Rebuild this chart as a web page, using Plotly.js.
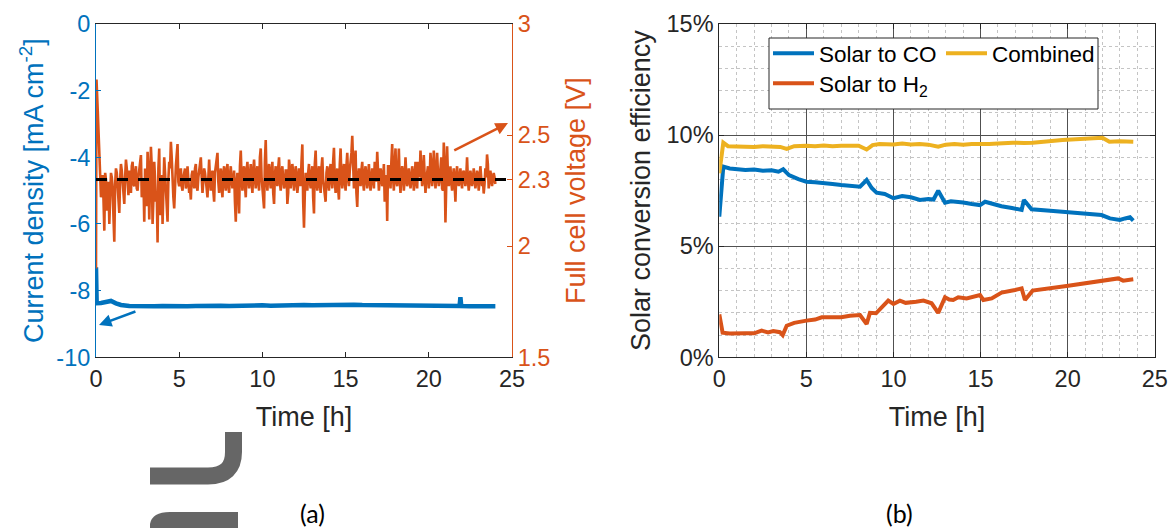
<!DOCTYPE html>
<html>
<head>
<meta charset="utf-8">
<script src="https://cdn.plot.ly/plotly-3.0.1.min.js"></script>
<style>html,body{margin:0;padding:0;background:#fff;}#chart{width:1169px;height:528px;}</style>
</head>
<body>
<div id="chart"></div>
<script>
// ---------- Panel (a): current density ----------
const curT = [0, 0.04, 0.3, 0.6, 0.9, 1.2, 1.5, 2, 2.5, 3, 3.5, 4, 4.5, 5, 5.5, 6, 6.5, 7, 7.5, 8, 8.5, 9, 9.5, 10, 10.5, 11, 11.5, 12, 12.5, 13, 13.5, 14, 14.5, 15, 15.5, 16, 16.5, 17, 17.5, 18, 18.5, 19, 19.5, 20, 20.5, 21, 21.5, 21.85, 21.9, 21.95, 22.5, 23, 23.5, 24.0];
const curV = [-7.3, -8.38, -8.37, -8.34, -8.31, -8.38, -8.43, -8.46, -8.47, -8.46, -8.47, -8.46, -8.47, -8.46, -8.47, -8.46, -8.45, -8.46, -8.45, -8.46, -8.45, -8.45, -8.44, -8.44, -8.45, -8.44, -8.43, -8.44, -8.43, -8.44, -8.43, -8.43, -8.44, -8.43, -8.42, -8.43, -8.43, -8.44, -8.43, -8.44, -8.44, -8.45, -8.44, -8.45, -8.45, -8.46, -8.45, -8.46, -8.2, -8.46, -8.47, -8.47, -8.48, -8.47];

// ---------- Panel (a): full cell voltage (readings on the 0.1 h grid) ----------
const volT = [0, 0.03, 0.1, 0.2, 0.3, 0.4, 0.5, 0.6, 0.7, 0.8, 0.9, 1.0, 1.1, 1.2, 1.3, 1.4, 1.5, 1.6, 1.7, 1.8, 1.9,
  2.0, 2.1, 2.2, 2.3, 2.4, 2.5, 2.6, 2.7, 2.8, 2.9, 3.0, 3.1, 3.2, 3.3, 3.4, 3.5, 3.6, 3.7, 3.8, 3.9,
  4.0, 4.1, 4.2, 4.3, 4.4, 4.5, 4.6, 4.7, 4.8, 4.9, 5.0, 5.1, 5.2, 5.3, 5.4, 5.5, 5.6, 5.7, 5.8, 5.9,
  6.0, 6.1, 6.2, 6.3, 6.4, 6.5, 6.6, 6.7, 6.8, 6.9, 7.0, 7.1, 7.2, 7.3, 7.4, 7.5, 7.6, 7.7, 7.8, 7.9,
  8.0, 8.1, 8.2, 8.3, 8.4, 8.5, 8.6, 8.7, 8.8, 8.9, 9.0, 9.1, 9.2, 9.3, 9.4, 9.5, 9.6, 9.7, 9.8, 9.9,
  10.0, 10.1, 10.2, 10.3, 10.4, 10.5, 10.6, 10.7, 10.8, 10.9, 11.0, 11.1, 11.2, 11.3, 11.4, 11.5, 11.6, 11.7, 11.8, 11.9,
  12.0, 12.1, 12.2, 12.3, 12.4, 12.5, 12.6, 12.7, 12.8, 12.9, 13.0, 13.1, 13.2, 13.3, 13.4, 13.5, 13.6, 13.7, 13.8, 13.9,
  14.0, 14.1, 14.2, 14.3, 14.4, 14.5, 14.6, 14.7, 14.8, 14.9, 15.0, 15.1, 15.2, 15.3, 15.4, 15.5, 15.6, 15.7, 15.8, 15.9,
  16.0, 16.1, 16.2, 16.3, 16.4, 16.5, 16.6, 16.7, 16.8, 16.9, 17.0, 17.1, 17.2, 17.3, 17.4, 17.5, 17.6, 17.7, 17.8, 17.9,
  18.0, 18.1, 18.2, 18.3, 18.4, 18.5, 18.6, 18.7, 18.8, 18.9, 19.0, 19.1, 19.2, 19.3, 19.4, 19.5, 19.6, 19.7, 19.8, 19.9,
  20.0, 20.1, 20.2, 20.3, 20.4, 20.5, 20.6, 20.7, 20.8, 20.9, 21.0, 21.1, 21.2, 21.3, 21.4, 21.5, 21.6, 21.7, 21.8, 21.9,
  22.0, 22.1, 22.2, 22.3, 22.4, 22.5, 22.6, 22.7, 22.8, 22.9, 23.0, 23.1, 23.2, 23.3, 23.4, 23.5, 23.6, 23.7, 23.8, 23.9, 24.0];
const volV = [1.90, 2.75, 2.62, 2.40, 2.22, 2.32, 2.07, 2.30, 2.24, 2.10, 2.33, 2.26, 2.02, 2.35, 2.25, 2.15, 2.37, 2.27, 2.19, 2.39, 2.26,
  2.34, 2.24, 2.38, 2.27, 2.36, 2.25, 2.35, 2.41, 2.27, 2.11, 2.30, 2.425, 2.12, 2.447, 2.10, 2.38, 2.20, 2.017, 2.44, 2.25,
  2.10, 2.40, 2.26, 2.11, 2.38, 2.47, 2.26, 2.17, 2.36, 2.46, 2.27, 2.35, 2.25, 2.33, 2.26, 2.36, 2.24, 2.21, 2.34, 2.26,
  2.37, 2.25, 2.34, 2.40, 2.24, 2.35, 2.27, 2.22, 2.39, 2.25, 2.34, 2.20, 2.36, 2.42, 2.24, 2.35, 2.22, 2.36, 2.25, 2.37,
  2.24, 2.36, 2.26, 2.34, 2.11, 2.33, 2.147, 2.43, 2.25, 2.36, 2.22, 2.38, 2.26, 2.37, 2.24, 2.39, 2.26, 2.36, 2.25, 2.44,
  2.26, 2.17, 2.478, 2.25, 2.37, 2.26, 2.38, 2.19, 2.36, 2.27, 2.40, 2.25, 2.36, 2.26, 2.34, 2.19, 2.39, 2.26, 2.37, 2.25,
  2.36, 2.24, 2.35, 2.27, 2.458, 2.083, 2.33, 2.25, 2.37, 2.26, 2.36, 2.147, 2.43, 2.25, 2.36, 2.24, 2.40, 2.26, 2.20, 2.36,
  2.25, 2.37, 2.26, 2.443, 2.24, 2.35, 2.21, 2.44, 2.26, 2.37, 2.25, 2.42, 2.27, 2.38, 2.497, 2.26, 2.43, 2.177, 2.35, 2.27,
  2.38, 2.25, 2.36, 2.26, 2.37, 2.25, 2.35, 2.26, 2.34, 2.425, 2.25, 2.35, 2.27, 2.37, 2.25, 2.113, 2.36, 2.26, 2.46, 2.25,
  2.44, 2.27, 2.44, 2.24, 2.36, 2.25, 2.40, 2.27, 2.35, 2.26, 2.36, 2.25, 2.38, 2.26, 2.34, 2.43, 2.27, 2.41, 2.24, 2.35,
  2.26, 2.42, 2.27, 2.43, 2.26, 2.42, 2.27, 2.36, 2.26, 2.467, 2.107, 2.45, 2.27, 2.36, 2.25, 2.35, 2.20, 2.36, 2.27, 2.35,
  2.26, 2.34, 2.27, 2.40, 2.25, 2.34, 2.27, 2.35, 2.26, 2.34, 2.25, 2.36, 2.27, 2.237, 2.35, 2.413, 2.26, 2.34, 2.27, 2.33, 2.28];

// ---------- Panel (a): full cell voltage (readings between the grid points) ----------
const volMidT = [0.35, 0.45, 0.55, 0.65, 0.75, 0.85, 0.95, 1.05, 1.15, 1.25, 1.35, 1.45, 1.55, 1.65, 1.75, 1.85, 1.95, 2.05, 2.15, 2.25,
  2.35, 2.45, 2.55, 2.65, 2.75, 2.85, 2.95, 3.05, 3.15, 3.25, 3.35, 3.45, 3.55, 3.65, 3.75, 3.85, 3.95, 4.05, 4.15, 4.25,
  4.35, 4.45, 4.55, 4.65, 4.75, 4.85, 4.95, 5.05, 5.15, 5.25, 5.35, 5.45, 5.55, 5.65, 5.75, 5.85, 5.95, 6.05, 6.15, 6.25,
  6.35, 6.45, 6.55, 6.65, 6.75, 6.85, 6.95, 7.05, 7.15, 7.25, 7.35, 7.45, 7.55, 7.65, 7.75, 7.85, 7.95, 8.05, 8.15, 8.25,
  8.35, 8.45, 8.55, 8.65, 8.75, 8.85, 8.95, 9.05, 9.15, 9.25, 9.35, 9.45, 9.55, 9.65, 9.75, 9.85, 9.95, 10.05, 10.15, 10.25,
  10.35, 10.45, 10.55, 10.65, 10.75, 10.85, 10.95, 11.05, 11.15, 11.25, 11.35, 11.45, 11.55, 11.65, 11.75, 11.85, 11.95, 12.05, 12.15, 12.25,
  12.35, 12.45, 12.55, 12.65, 12.75, 12.85, 12.95, 13.05, 13.15, 13.25, 13.35, 13.45, 13.55, 13.65, 13.75, 13.85, 13.95, 14.05, 14.15, 14.25,
  14.35, 14.45, 14.55, 14.65, 14.75, 14.85, 14.95, 15.05, 15.15, 15.25, 15.35, 15.45, 15.55, 15.65, 15.75, 15.85, 15.95, 16.05, 16.15, 16.25,
  16.35, 16.45, 16.55, 16.65, 16.75, 16.85, 16.95, 17.05, 17.15, 17.25, 17.35, 17.45, 17.55, 17.65, 17.75, 17.85, 17.95, 18.05, 18.15, 18.25,
  18.35, 18.45, 18.55, 18.65, 18.75, 18.85, 18.95, 19.05, 19.15, 19.25, 19.35, 19.45, 19.55, 19.65, 19.75, 19.85, 19.95, 20.05, 20.15, 20.25,
  20.35, 20.45, 20.55, 20.65, 20.75, 20.85, 20.95, 21.05, 21.15, 21.25, 21.35, 21.45, 21.55, 21.65, 21.75, 21.85, 21.95, 22.05, 22.15, 22.25,
  22.35, 22.45, 22.55, 22.65, 22.75, 22.85, 22.95, 23.05, 23.15, 23.25, 23.35, 23.45, 23.55, 23.65, 23.75, 23.85, 23.95];
const volMidV = [2.27, 2.21, 2.33, 2.16, 2.29, 2.23, 2.31, 2.13, 2.28, 2.33, 2.22, 2.30, 2.34, 2.24, 2.31, 2.35, 2.23, 2.30, 2.36, 2.28,
  2.33, 2.26, 2.31, 2.37, 2.22, 2.30, 2.35, 2.18, 2.33, 2.27, 2.36, 2.21, 2.30, 2.25, 2.35, 2.14, 2.32, 2.28, 2.33, 2.20,
  2.30, 2.35, 2.40, 2.22, 2.31, 2.41, 2.29, 2.33, 2.27, 2.31, 2.35, 2.28, 2.30, 2.26, 2.32, 2.29, 2.35, 2.27, 2.31, 2.37,
  2.31, 2.29, 2.33, 2.26, 2.35, 2.30, 2.32, 2.25, 2.33, 2.37, 2.29, 2.31, 2.26, 2.33, 2.28, 2.34, 2.27, 2.32, 2.30, 2.29,
  2.20, 2.29, 2.25, 2.36, 2.31, 2.33, 2.28, 2.34, 2.30, 2.32, 2.29, 2.34, 2.31, 2.33, 2.29, 2.40, 2.31, 2.22, 2.38, 2.30,
  2.33, 2.30, 2.34, 2.24, 2.32, 2.30, 2.35, 2.29, 2.33, 2.30, 2.28, 2.34, 2.24, 2.35, 2.30, 2.33, 2.29, 2.32, 2.28, 2.31,
  2.38, 2.20, 2.24, 2.30, 2.33, 2.29, 2.32, 2.22, 2.37, 2.29, 2.32, 2.28, 2.35, 2.30, 2.25, 2.33, 2.29, 2.34, 2.30, 2.38,
  2.30, 2.31, 2.26, 2.37, 2.30, 2.33, 2.29, 2.36, 2.31, 2.34, 2.42, 2.31, 2.35, 2.24, 2.31, 2.30, 2.34, 2.29, 2.33, 2.30,
  2.32, 2.29, 2.31, 2.30, 2.38, 2.29, 2.31, 2.30, 2.33, 2.29, 2.20, 2.32, 2.36, 2.31, 2.38, 2.31, 2.37, 2.29, 2.33, 2.30,
  2.31, 2.33, 2.30, 2.32, 2.29, 2.31, 2.30, 2.33, 2.29, 2.31, 2.38, 2.31, 2.34, 2.30, 2.32, 2.30, 2.36, 2.30, 2.37, 2.31,
  2.35, 2.31, 2.33, 2.30, 2.40, 2.25, 2.36, 2.31, 2.32, 2.30, 2.29, 2.31, 2.28, 2.32, 2.30, 2.31, 2.29, 2.33, 2.30, 2.31,
  2.30, 2.29, 2.31, 2.30, 2.31, 2.29, 2.32, 2.30, 2.31, 2.30, 2.28, 2.31, 2.37, 2.30, 2.31, 2.30, 2.31];

const refT = [0, 24.7];
const refV = [2.3, 2.3];

// ---------- Panel (b): solar conversion efficiency [%] ----------
const coT = [0, 0.23, 0.6, 1, 1.5, 2, 2.5, 3, 3.4, 3.67, 4.0, 4.54, 5, 5.5, 6, 6.5, 7, 7.5, 8.08, 8.46, 8.75, 9.03, 9.5, 10, 10.5, 11, 11.52, 12, 12.3, 12.57, 12.96, 13.3, 13.63, 14, 14.5, 14.97, 15.26, 15.7, 16.2, 16.8, 17.36, 17.49, 17.93, 19, 20, 21, 21.95, 22.43, 23, 23.3, 23.58, 23.77];
const coV = [6.33, 8.58, 8.5, 8.45, 8.43, 8.45, 8.4, 8.42, 8.35, 8.46, 8.2, 8.02, 7.9, 7.88, 7.82, 7.8, 7.75, 7.72, 7.68, 7.98, 7.62, 7.41, 7.35, 7.16, 7.26, 7.2, 7.08, 7.12, 7.1, 7.5, 6.96, 7.02, 7.0, 6.97, 6.9, 6.85, 7.0, 6.9, 6.8, 6.72, 6.63, 7.08, 6.66, 6.6, 6.54, 6.47, 6.4, 6.25, 6.18, 6.25, 6.3, 6.15];

const h2T = [0, 0.19, 0.6, 1, 1.5, 2, 2.43, 2.8, 3.1, 3.48, 3.64, 3.87, 4.3, 5, 5.5, 5.88, 6.5, 7, 7.5, 8.08, 8.46, 8.65, 9.0, 9.4, 9.7, 10, 10.37, 10.7, 10.95, 11.3, 11.72, 12.19, 12.57, 12.96, 13.2, 13.43, 13.72, 14.2, 14.97, 15.16, 15.64, 16.21, 16.98, 17.36, 17.55, 17.99, 19.94, 21.95, 22.9, 23.19, 23.77];
const h2V = [1.93, 1.11, 1.07, 1.06, 1.08, 1.08, 1.2, 1.12, 1.18, 1.13, 1.0, 1.42, 1.55, 1.65, 1.7, 1.8, 1.82, 1.8, 1.87, 1.9, 1.5, 2.0, 1.98, 2.3, 2.55, 2.4, 2.55, 2.45, 2.46, 2.5, 2.55, 2.43, 2.0, 2.7, 2.6, 2.58, 2.7, 2.65, 2.8, 2.58, 2.65, 2.91, 3.03, 3.1, 2.58, 3.0, 3.21, 3.45, 3.55, 3.45, 3.51];

const combT = [0, 0.23, 0.5, 1, 1.5, 2, 2.5, 3, 3.5, 3.87, 4.3, 5, 5.5, 6, 6.5, 7, 7.5, 8, 8.46, 8.8, 9.2, 10, 10.5, 11, 11.5, 12, 12.57, 13, 13.5, 14, 14.5, 15, 15.5, 16, 16.86, 17.5, 18, 19.7, 22.0, 22.4, 23, 23.77];
const combV = [8.28, 9.66, 9.5, 9.48, 9.5, 9.47, 9.5, 9.48, 9.47, 9.38, 9.5, 9.52, 9.5, 9.53, 9.5, 9.52, 9.5, 9.52, 9.35, 9.55, 9.6, 9.58, 9.62, 9.58, 9.6, 9.57, 9.48, 9.57, 9.6, 9.57, 9.6, 9.58, 9.6, 9.62, 9.66, 9.64, 9.66, 9.78, 9.88, 9.7, 9.72, 9.7];

const timeTicks = [0, 5, 10, 15, 20, 25];
const curTicks = [-10, -8, -6, -4, -2, 0];
const curTickText = ['-10', '-8', '-6', '-4', '-2', '0'];
const volTicks = [1.5, 2, 2.3, 2.5, 3];
const volTickText = ['1.5', '2', '2.3', '2.5', '3'];
const effTicks = [0, 5, 10, 15];
const effTickText = ['0%', '5%', '10%', '15%'];

// merge the two voltage reading sets in time order
const volPairs = volT.map((t, i) => [t, volV[i]]).concat(volMidT.map((t, i) => [t, volMidV[i]]))
  .sort((a, b) => a[0] - b[0]);
const volAllT = volPairs.map(p => p[0]);
const volAllV = volPairs.map(p => p[1]);

// ---------- styling ----------
const W = 1169, H = 528;
const BLUE = '#0072BD', ORANGE = '#D95319', YELLOW = '#EDB120', DARK = '#262626';
const FONT = 'Liberation Sans, Arial, Helvetica, sans-serif';
const TICK = 23.5, LAB = 27, LEG = 22.5;
const px = x => x / W;
const py = y => 1 - y / H;
const yDom = [py(357.3), py(24)];

const traces = [
  {x: curT, y: curV, xaxis: 'x', yaxis: 'y', mode: 'lines', line: {color: BLUE, width: 4.5}, showlegend: false, hoverinfo: 'skip'},
  {x: volAllT, y: volAllV, xaxis: 'x', yaxis: 'y2', mode: 'lines', line: {color: ORANGE, width: 2.6}, showlegend: false, hoverinfo: 'skip'},
  {x: refT, y: refV, xaxis: 'x', yaxis: 'y2', mode: 'lines', line: {color: '#000000', width: 3, dash: '11px,10px'}, showlegend: false, hoverinfo: 'skip'},
  {x: coT, y: coV, xaxis: 'x2', yaxis: 'y3', mode: 'lines', name: 'Solar to CO', line: {color: BLUE, width: 4}, legend: 'legend'},
  {x: h2T, y: h2V, xaxis: 'x2', yaxis: 'y3', mode: 'lines', name: 'Solar to H<sub>2</sub>', line: {color: ORANGE, width: 4}, legend: 'legend3'},
  {x: combT, y: combV, xaxis: 'x2', yaxis: 'y3', mode: 'lines', name: 'Combined', line: {color: YELLOW, width: 4}, legend: 'legend2'}
];

const tickFont = c => ({family: FONT, size: TICK, color: c});
const labFont = c => ({family: FONT, size: LAB, color: c});
const baseX = {
  range: [0, 25], tickvals: timeTicks, ticks: 'inside', ticklen: 5, tickcolor: DARK,
  showline: true, linecolor: DARK, linewidth: 1, mirror: 'ticks', zeroline: false,
  tickfont: tickFont(DARK), automargin: false, fixedrange: true,
  title: {text: 'Time [h]', font: labFont(DARK), standoff: 16}
};
const legendBase = (x, y) => ({
  x: px(x), y: py(y), xanchor: 'left', yanchor: 'top', orientation: 'v',
  bgcolor: 'rgba(0,0,0,0)', borderwidth: 0, itemwidth: 41,
  font: {family: FONT, size: LEG, color: '#000000'}
});

const layout = {
  width: W, height: H,
  margin: {l: 0, r: 0, t: 0, b: 0},
  paper_bgcolor: '#ffffff', plot_bgcolor: '#ffffff',
  font: {family: FONT, color: DARK},
  xaxis: Object.assign({}, baseX, {domain: [px(96), px(512)], anchor: 'y', showgrid: false}),
  yaxis: {
    domain: yDom, anchor: 'x', range: [-10, 0], tickvals: curTicks, ticktext: curTickText, ticks: 'inside', ticklen: 5,
    tickcolor: BLUE, showline: true, linecolor: BLUE, linewidth: 1, zeroline: false, showgrid: false,
    tickfont: tickFont(BLUE), automargin: false, fixedrange: true,
    title: {text: 'Current density [mA cm<sup>-2</sup>]', font: labFont(BLUE), standoff: 4}
  },
  yaxis2: {
    overlaying: 'y', side: 'right', anchor: 'x', range: [1.5, 3], tickvals: volTicks, ticktext: volTickText,
    ticks: 'inside', ticklen: 5, tickcolor: ORANGE, showline: true, linecolor: ORANGE, linewidth: 1,
    zeroline: false, showgrid: false, tickfont: tickFont(ORANGE), automargin: false, fixedrange: true,
    title: {text: 'Full cell voltage [V]', font: labFont(ORANGE), standoff: 16}
  },
  xaxis2: Object.assign({}, baseX, {
    domain: [px(719.3), px(1154.7)], anchor: 'y3',
    showgrid: true, gridcolor: '#505050', gridwidth: 1,
    minor: {dtick: 1, showgrid: true, gridcolor: '#c4c4c4', griddash: 'dot', gridwidth: 1, ticks: ''}
  }),
  yaxis3: {
    domain: yDom, anchor: 'x2', range: [0, 15], tickvals: effTicks, ticktext: effTickText,
    ticks: 'inside', ticklen: 5, tickcolor: DARK, showline: true, linecolor: DARK, linewidth: 1, mirror: 'ticks',
    zeroline: false, showgrid: true, gridcolor: '#505050', gridwidth: 1,
    minor: {dtick: 1, showgrid: true, gridcolor: '#c4c4c4', griddash: 'dot', gridwidth: 1, ticks: ''},
    tickfont: tickFont(DARK), automargin: false, fixedrange: true,
    title: {text: 'Solar conversion efficiency', font: labFont(DARK), standoff: 8}
  },
  legend: legendBase(768, 32),
  legend3: legendBase(768, 62),
  legend2: legendBase(941, 32),
  shapes: [
    {type: 'rect', xref: 'paper', yref: 'paper', x0: px(769), x1: px(1098), y0: py(109), y1: py(38),
     line: {color: DARK, width: 1}, fillcolor: '#ffffff', layer: 'above'},
    {type: 'path', xref: 'paper', yref: 'paper', layer: 'above',
     path: 'M ' + px(233.5) + ',' + py(432) + ' L ' + px(233.5) + ',' + py(452) +
           ' Q ' + px(233.5) + ',' + py(476) + ' ' + px(208) + ',' + py(476) + ' L ' + px(150) + ',' + py(476),
     line: {color: '#666666', width: 17}},
    {type: 'path', xref: 'paper', yref: 'paper', layer: 'above',
     path: 'M ' + px(150) + ',' + py(528) + ' L ' + px(150) + ',' + py(524) +
           ' Q ' + px(152) + ',' + py(512) + ' ' + px(170) + ',' + py(512) +
           ' L ' + px(238) + ',' + py(512) + ' L ' + px(238) + ',' + py(528) + ' Z',
     fillcolor: '#666666', line: {width: 0}}
  ],
  annotations: [
    {xref: 'x', yref: 'y', axref: 'x', ayref: 'y', x: 0.18, y: -9.03, ax: 2.46, ay: -8.61,
     showarrow: true, arrowhead: 2, arrowsize: 1, arrowwidth: 2.5, arrowcolor: BLUE, text: ''},
    {xref: 'x', yref: 'y2', axref: 'x', ayref: 'y2', x: 24.76, y: 2.554, ax: 21.44, ay: 2.428,
     showarrow: true, arrowhead: 2, arrowsize: 1, arrowwidth: 2.5, arrowcolor: ORANGE, text: ''},
    {xref: 'paper', yref: 'paper', x: px(298), y: py(513), yanchor: 'middle', text: '(a)', showarrow: false,
     font: {family: 'Lato, Open Sans, sans-serif', size: 25, color: '#000000'}},
    {xref: 'paper', yref: 'paper', x: px(915), y: py(513), yanchor: 'middle', text: '(b)', showarrow: false,
     font: {family: 'Lato, Open Sans, sans-serif', size: 25, color: '#000000'}}
  ]
};

Plotly.newPlot('chart', traces, layout, {displayModeBar: false, staticPlot: true});
</script>
</body>
</html>
